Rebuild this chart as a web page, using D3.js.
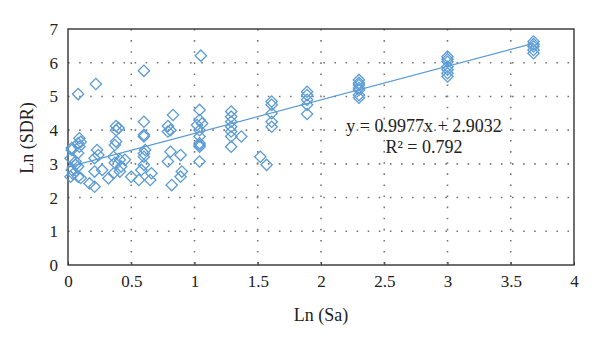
<!DOCTYPE html>
<html>
<head>
<meta charset="utf-8">
<script src="https://d3js.org/d3.v7.min.js"></script>
<style>
  body { margin: 0; background: #fff; }
</style>
</head>
<body>
<div id="chart"></div>
<script>
// Data: Ln (Sa) and Ln (SDR)
var lnSa = [
  0.03, 0.02, 0.04, 0.08, 0.10, 0.06, 0.10, 0.08, 0.08, 0.03, 0.09, 0.06, 0.08, 0.03, 0.02, 0.08, 0.09,
  0.17, 0.21, 0.23, 0.24, 0.21, 0.21, 0.27, 0.22,
  0.32, 0.37, 0.38, 0.36, 0.41, 0.37, 0.45, 0.42, 0.41, 0.36, 0.38, 0.40, 0.38,
  0.50, 0.56, 0.60, 0.61, 0.60, 0.60, 0.58, 0.66, 0.65, 0.60, 0.60, 0.60, 0.60,
  0.79, 0.81, 0.89, 0.90, 0.89, 0.82, 0.79, 0.79, 0.83, 0.81,
  1.04, 1.04, 1.04, 1.05, 1.04, 1.04, 1.06, 1.02, 1.04, 1.04, 1.04,
  1.29, 1.29, 1.29, 1.29, 1.29, 1.29, 1.29, 1.37,
  1.52, 1.57,
  1.61, 1.61, 1.61, 1.61, 1.61,
  1.89, 1.89, 1.89, 1.89, 1.89,
  2.30, 2.30, 2.30, 2.30, 2.30, 2.30, 2.30,
  3.00, 3.00, 3.00, 3.00, 3.00, 3.00, 3.00,
  3.68, 3.68, 3.68, 3.68, 3.68
];
var lnSdr = [
  3.47, 3.17, 2.70, 5.07, 3.65, 2.97, 2.58, 3.32, 3.61, 3.41, 3.51, 3.07, 2.92, 2.82, 2.62, 2.62, 3.76,
  2.42, 2.32, 3.41, 3.26, 3.17, 2.77, 2.82, 5.37,
  2.57, 3.56, 3.66, 3.21, 3.12, 3.03, 3.12, 2.92, 2.77, 2.72, 4.12, 4.06, 4.00,
  2.62, 2.52, 3.31, 3.41, 3.21, 2.97, 2.82, 2.72, 2.52, 3.81, 5.76, 4.25, 3.86,
  3.07, 3.36, 3.26, 2.77, 2.62, 2.37, 3.96, 4.12, 4.45, 4.00,
  3.07, 3.51, 3.61, 6.21, 4.60, 4.30, 4.20, 4.15, 4.00, 3.81, 3.56,
  4.55, 4.40, 4.25, 4.10, 3.96, 3.81, 3.51, 3.81,
  3.21, 2.97,
  4.85, 4.75, 4.50, 4.25, 4.10,
  5.14, 5.04, 4.90, 4.75, 4.48,
  5.49, 5.40, 5.34, 5.25, 5.19, 5.04, 4.96,
  6.18, 6.10, 6.03, 5.88, 5.79, 5.69, 5.59,
  6.63, 6.55, 6.48, 6.38, 6.28
];
var xTicks = [0, 0.5, 1, 1.5, 2, 2.5, 3, 3.5, 4];
var yTicks = [0, 1, 2, 3, 4, 5, 6, 7];
var slope = 0.9977, intercept = 2.9032;
var eqLabels = ["y = 0.9977x + 2.9032", "R\u00B2 = 0.792"];

var serif = "'Liberation Serif', 'Times New Roman', serif";
var points = lnSa.map(function(d, i) { return {x: d, y: lnSdr[i]}; });

// Set the dimensions and margins
var margin = {top: 29, right: 26, bottom: 76, left: 68},
    width = 600 - margin.left - margin.right,
    height = 341 - margin.top - margin.bottom;

var svg = d3.select("#chart")
  .append("svg")
    .attr("width", width + margin.left + margin.right)
    .attr("height", height + margin.top + margin.bottom)
  .append("g")
    .attr("transform", "translate(" + margin.left + "," + margin.top + ")");

var x = d3.scaleLinear().domain([0, 4]).range([0, width]);
var y = d3.scaleLinear().domain([0, 7]).range([height, 0]);

// Dotted gridlines
svg.selectAll(".hgrid")
  .data(yTicks.slice(1, -1))
  .enter()
  .append("line")
    .attr("x1", 0).attr("x2", width)
    .attr("y1", function(d) { return y(d); })
    .attr("y2", function(d) { return y(d); })
    .attr("stroke", "#777")
    .attr("stroke-width", 1.6)
    .attr("stroke-dasharray", "1.6,9.5");

svg.selectAll(".vgrid")
  .data(xTicks.slice(1, -1))
  .enter()
  .append("line")
    .attr("y1", 0).attr("y2", height)
    .attr("x1", function(d) { return x(d); })
    .attr("x2", function(d) { return x(d); })
    .attr("stroke", "#777")
    .attr("stroke-width", 1.6)
    .attr("stroke-dasharray", "1.6,9.5");

// X axis
var xAxis = svg.append("g")
  .attr("transform", "translate(0," + height + ")")
  .call(d3.axisBottom(x).tickValues(xTicks).tickFormat(d3.format("")).tickSizeInner(-3).tickSizeOuter(0).tickPadding(10));
xAxis.select(".domain").remove();
xAxis.selectAll("line").attr("stroke", "#444");
xAxis.attr("font-family", serif);
xAxis.selectAll("text").style("font-size", "17px").style("font-family", serif).attr("fill", "#222");

// Y axis
var yAxis = svg.append("g")
  .call(d3.axisLeft(y).tickValues(yTicks).tickFormat(d3.format("d")).tickSize(0).tickPadding(10));
yAxis.select(".domain").remove();
yAxis.attr("font-family", serif);
yAxis.selectAll("text").style("font-size", "17px").style("font-family", serif).attr("fill", "#222");

// Frame
svg.append("rect")
  .attr("width", width)
  .attr("height", height)
  .attr("fill", "none")
  .attr("stroke", "#333")
  .attr("stroke-width", 1.4);

// Trend line
var xExt = d3.extent(lnSa);
svg.append("line")
  .attr("x1", x(xExt[0] - 0.03)).attr("y1", y(slope * (xExt[0] - 0.03) + intercept))
  .attr("x2", x(xExt[1])).attr("y2", y(slope * xExt[1] + intercept))
  .attr("stroke", "#5b9bd5")
  .attr("stroke-width", 1.3);

// Diamonds
var diamond = d3.symbol().type(d3.symbolSquare).size(64);
svg.selectAll(".pt")
  .data(points)
  .enter()
  .append("path")
    .attr("d", diamond)
    .attr("transform", function(d) { return "translate(" + x(d.x) + "," + y(d.y) + ") rotate(45)"; })
    .attr("fill", "none")
    .attr("stroke", "#5b9bd5")
    .attr("stroke-width", 1.3);

// Equation text
svg.selectAll(".eq")
  .data(eqLabels)
  .enter()
  .append("text")
    .attr("x", 424 - margin.left)
    .attr("y", function(d, i) { return 132 - margin.top + i * 21; })
    .attr("text-anchor", "middle")
    .style("font-family", serif)
    .style("font-size", "18px")
    .attr("fill", "#222")
    .text(function(d) { return d; });

// Axis titles
svg.append("text")
  .attr("x", width / 2)
  .attr("y", 321 - margin.top)
  .attr("text-anchor", "middle")
  .style("font-family", serif)
  .style("font-size", "18px")
  .attr("fill", "#222")
  .text("Ln (Sa)");

svg.append("text")
  .attr("transform", "translate(" + (33 - margin.left) + "," + (138 - margin.top) + ") rotate(-90)")
  .attr("text-anchor", "middle")
  .style("font-family", serif)
  .style("font-size", "18px")
  .attr("fill", "#222")
  .text("Ln (SDR)");
</script>
</body>
</html>
